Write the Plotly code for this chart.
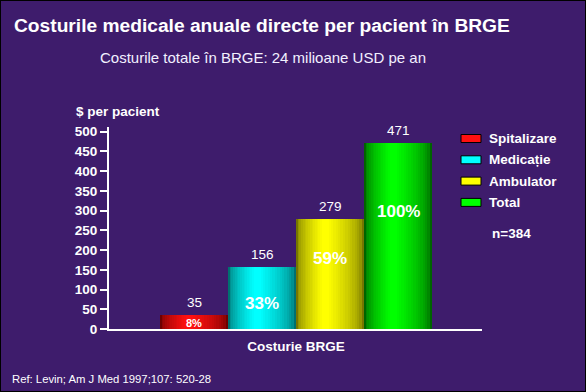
import plotly.graph_objects as go

# ---------------- data ----------------
categories = ["Spitalizare", "Medicație", "Ambulator", "Total"]
costs = [35, 156, 279, 471]
percent_labels = ["8%", "33%", "59%", "100%"]
y_tick_values = [0, 50, 100, 150, 200, 250, 300, 350, 400, 450, 500]
category_label = "Costurie BRGE"
sample_note = "n=384"
title_text = "Costurile medicale anuale directe per pacient în BRGE"
subtitle_text = "Costurile totale în BRGE: 24 milioane USD pe an"
y_title = "$ per pacient"
ref_text = "Ref: Levin; Am J Med 1997;107: 520-28"

# ---------------- style ----------------
W, H = 586, 392
ML, MR, MT, MB = 109, 104, 127, 63
BG = "#3e1c6c"
FONT = "Arial, Liberation Sans, sans-serif"
edge_cols = [(110, 0, 0), (0, 112, 112), (118, 118, 0), (0, 100, 0)]
mid_cols = [(255, 16, 16), (0, 255, 255), (255, 255, 0), (0, 255, 0)]
pct_font = [11, 17, 17, 17]
pct_frac = [0.42, 0.42, 0.64, 0.63]

PW = W - ML - MR
PH = H - MT - MB


def px(x):
    return (x - ML) / PW


def py(y):
    return (H - MB - y) / PH


xpos = list(range(len(categories)))

fig = go.Figure()

N = 16
for k in range(N):
    t = k / (N - 1)
    w = 1.0 - 0.9 * t
    s = t ** 0.55
    cols = []
    for e, m in zip(edge_cols, mid_cols):
        c = tuple(int(round(e[i] + (m[i] - e[i]) * s)) for i in range(3))
        cols.append("rgb(%d,%d,%d)" % c)
    fig.add_trace(go.Bar(
        x=[p - 0.07 * t for p in xpos],
        y=costs,
        width=w,
        marker=dict(color=cols, line=dict(width=0)),
        showlegend=False,
        hoverinfo="skip",
    ))

annotations = []
# value labels above bars
for p, v in zip(xpos, costs):
    annotations.append(dict(
        x=p, y=v, xref="x", yref="y", text=str(v), showarrow=False,
        yanchor="bottom", yshift=3,
        font=dict(family=FONT, size=13.5, color="white"),
    ))
# percent labels inside bars
for p, v, lab, fs, fr in zip(xpos, costs, percent_labels, pct_font, pct_frac):
    annotations.append(dict(
        x=p, y=v * fr, xref="x", yref="y", text="<b>%s</b>" % lab,
        showarrow=False, yanchor="middle",
        font=dict(family=FONT, size=fs, color="white"),
    ))

# titles
annotations.append(dict(
    x=px(262), y=py(25), xref="paper", yref="paper", text="<b>%s</b>" % title_text,
    showarrow=False, xanchor="center", yanchor="middle",
    font=dict(family=FONT, size=19.2, color="white"),
))
annotations.append(dict(
    x=px(263), y=py(58), xref="paper", yref="paper", text=subtitle_text,
    showarrow=False, xanchor="center", yanchor="middle",
    font=dict(family=FONT, size=15, color="#f2f0ff"),
))
annotations.append(dict(
    x=px(74), y=py(112), xref="paper", yref="paper", text="<b>%s</b>" % y_title,
    showarrow=False, xanchor="left", yanchor="middle",
    font=dict(family=FONT, size=13.5, color="white"),
))
annotations.append(dict(
    x=px(10), y=py(379), xref="paper", yref="paper", text=ref_text,
    showarrow=False, xanchor="left", yanchor="middle",
    font=dict(family=FONT, size=11.3, color="white"),
))

# custom legend
shapes = []
for i, (name, c) in enumerate(zip(categories, mid_cols)):
    yc = 138.5 + i * 21.3
    shapes.append(dict(
        type="rect", xref="paper", yref="paper",
        x0=px(461), x1=px(481), y0=py(yc - 4), y1=py(yc + 4),
        fillcolor="rgb(%d,%d,%d)" % c, line=dict(color="black", width=1),
    ))
    annotations.append(dict(
        x=px(487), y=py(yc), xref="paper", yref="paper", text="<b>%s</b>" % name,
        showarrow=False, xanchor="left", yanchor="middle",
        font=dict(family=FONT, size=13.5, color="white"),
    ))
annotations.append(dict(
    x=px(511), y=py(233), xref="paper", yref="paper", text="<b>%s</b>" % sample_note,
    showarrow=False, xanchor="center", yanchor="middle",
    font=dict(family=FONT, size=13.5, color="white"),
))

# outer border
shapes.append(dict(
    type="rect", xref="paper", yref="paper",
    x0=px(0), x1=px(W), y0=py(H), y1=py(0),
    line=dict(color="black", width=2), fillcolor="rgba(0,0,0,0)", layer="above",
))

fig.update_layout(
    width=W, height=H,
    margin=dict(l=ML, r=MR, t=MT, b=MB, pad=0),
    paper_bgcolor=BG, plot_bgcolor=BG,
    barmode="overlay", bargap=0,
    showlegend=False,
    annotations=annotations,
    shapes=shapes,
    font=dict(family=FONT, color="white"),
    xaxis=dict(
        range=[-1.25, 4.235], showgrid=False, zeroline=False,
        showline=True, linecolor="white", linewidth=2,
        tickmode="array", tickvals=[1.5], ticktext=["<b>%s</b>" % category_label],
        ticks="outside", ticklen=4, tickcolor="rgba(0,0,0,0)",
        tickfont=dict(family=FONT, size=13.5, color="white"),
        fixedrange=True,
    ),
    yaxis=dict(
        range=[0, 512], showgrid=False, zeroline=False,
        showline=True, linecolor="white", linewidth=2,
        tickmode="array", tickvals=y_tick_values,
        ticktext=["<b>%d</b>" % v for v in y_tick_values],
        ticks="outside", ticklen=7, tickwidth=2, tickcolor="white",
        tickfont=dict(family=FONT, size=13.5, color="white"),
        fixedrange=True,
    ),
)

fig.write_html(
    "out.html",
    config={"displayModeBar": False},
    post_script="document.body.style.margin='0';document.body.style.background='%s';" % BG,
)
